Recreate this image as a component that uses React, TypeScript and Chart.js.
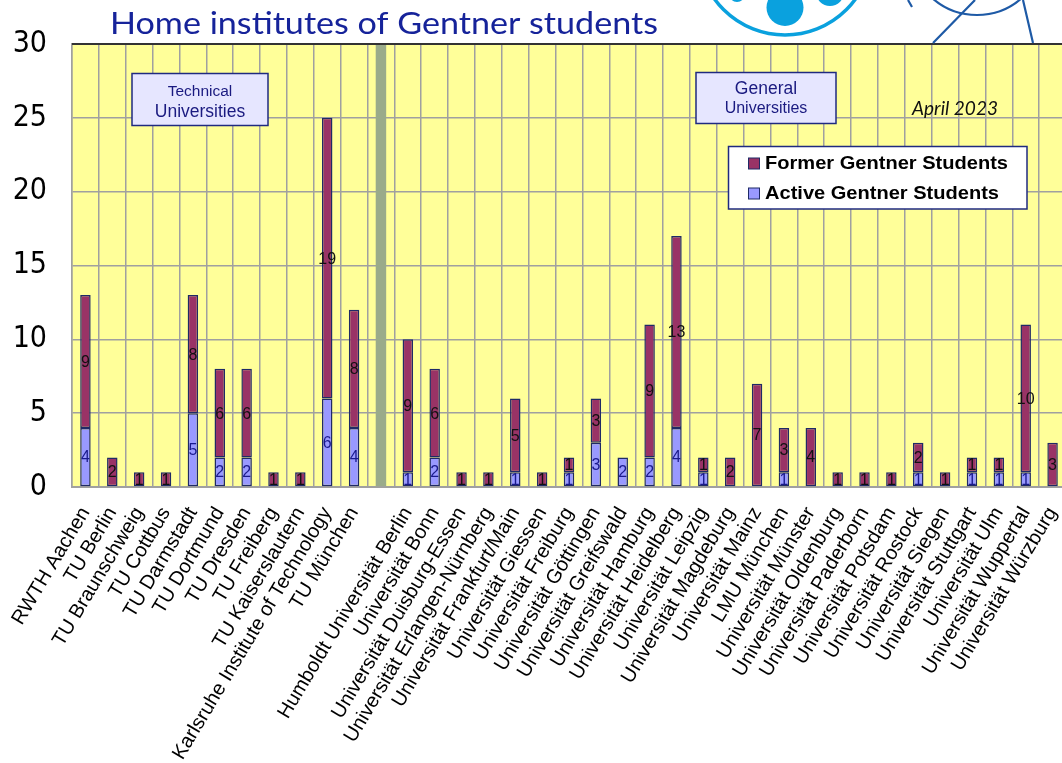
import React, { useEffect, useRef } from "react";
import { Chart, registerables } from "chart.js";

Chart.register(...registerables);

const institutes = [
  "RWTH Aachen", "TU Berlin", "TU Braunschweig", "TU Cottbus", "TU Darmstadt", "TU Dortmund",
  "TU Dresden", "TU Freiberg", "TU Kaiserslautern", "Karlsruhe Institute of Technology", "TU München",
  "",
  "Humboldt Universität Berlin", "Universität Bonn", "Universität Duisburg-Essen",
  "Universität Erlangen-Nürnberg", "Universität Frankfurt/Main", "Universität Giessen",
  "Universität Freiburg", "Universität Göttingen", "Universität Greifswald", "Universität Hamburg",
  "Universität Heidelberg", "Universität Leipzig", "Universität Magdeburg", "Universität Mainz",
  "LMU München", "Universität Münster", "Universität Oldenburg", "Universität Paderborn",
  "Universität Potsdam", "Universität Rostock", "Universität Siegen", "Universität Stuttgart",
  "Universität Ulm", "Universität Wuppertal", "Universität Würzburg",
];

const activeStudents = [4, 0, 0, 0, 5, 2, 2, 0, 0, 6, 4, 0, 1, 2, 0, 0, 1, 0, 1, 3, 2, 2, 4, 1, 0, 0, 1, 0, 0, 0, 0, 1, 0, 1, 1, 1, 0];
const formerStudents = [9, 2, 1, 1, 8, 6, 6, 1, 1, 19, 8, 0, 9, 6, 1, 1, 5, 1, 1, 3, 0, 9, 13, 1, 2, 7, 3, 4, 1, 1, 1, 2, 1, 1, 1, 10, 3];

const separatorIndex = 11;
const separatorValue = 30;

const yMin = 0;
const yMax = 30;
const yStep = 5;

const seriesLabels = ["Active Gentner Students", "Former Gentner Students"];
const groupLabels = [["Technical", "Universities"], ["General", "Universities"]];
const titleText = "Home institutes of Gentner students";
const dateText = "April 2023";

const ACTIVE = "#9999ff";
const FORMER = "#993366";
const EDGE = "#1f2a66";
const NAVY = "#1a1a80";

function drawFitText(ctx: CanvasRenderingContext2D, text: string, x: number, y: number, w: number, font: string, color: string) {
  ctx.save();
  ctx.font = font;
  ctx.fillStyle = color;
  ctx.textAlign = "left";
  ctx.textBaseline = "alphabetic";
  const m = ctx.measureText(text).width;
  ctx.translate(x, y);
  ctx.scale(w / m, 1);
  ctx.fillText(text, 0, 0);
  ctx.restore();
}

const decorPlugin = {
  id: "decor",
  beforeDraw(chart: any) {
    const { ctx, chartArea: a } = chart;
    ctx.save();
    ctx.fillStyle = "#ffffff";
    ctx.fillRect(0, 0, chart.width, chart.height);
    ctx.fillStyle = "#ffff99";
    ctx.fillRect(a.left, a.top, a.right - a.left, a.bottom - a.top);
    ctx.restore();
  },
  afterDatasetsDraw(chart: any) {
    const { ctx } = chart;
    ctx.save();
    ctx.font = "16px 'Liberation Sans', Arial, sans-serif";
    ctx.textAlign = "center";
    ctx.textBaseline = "middle";
    [0, 1].forEach((di) => {
      const meta = chart.getDatasetMeta(di);
      const vals = chart.data.datasets[di].data;
      meta.data.forEach((el: any, i: number) => {
        const v = vals[i];
        if (!v) return;
        ctx.fillStyle = di === 0 ? "#1a1a8c" : "#111111";
        ctx.fillText(String(v), el.x, (el.y + el.base) / 2 + 1);
      });
    });
    ctx.restore();
  },
  afterDraw(chart: any) {
    const { ctx, chartArea: a } = chart;
    ctx.save();
    // top border
    ctx.strokeStyle = "#333333";
    ctx.lineWidth = 2;
    ctx.beginPath();
    ctx.moveTo(a.left, a.top);
    ctx.lineTo(a.right, a.top);
    ctx.stroke();

    // logo fragments
    ctx.strokeStyle = "#0aa1de";
    ctx.fillStyle = "#0aa1de";
    ctx.lineWidth = 3.5;
    ctx.beginPath();
    ctx.arc(785, -52, 87, 0, Math.PI * 2);
    ctx.stroke();
    [[785, 7.5, 18.5], [830, -8, 14], [737, -6, 8]].forEach(([x, y, r]) => {
      ctx.beginPath();
      ctx.arc(x, y, r, 0, Math.PI * 2);
      ctx.fill();
    });
    ctx.strokeStyle = "#1e5aa6";
    ctx.lineWidth = 2.2;
    ctx.beginPath();
    ctx.arc(977, -52.7, 67.7, 0, Math.PI);
    ctx.stroke();
    ctx.beginPath();
    ctx.moveTo(975, 0); ctx.lineTo(933, 43);
    ctx.moveTo(1023, 0); ctx.lineTo(1033, 43);
    ctx.moveTo(908, 0); ctx.lineTo(912, 7);
    ctx.stroke();

    // title
    drawFitText(ctx, titleText, 110, 34, 548, "31px Lato, 'Open Sans', sans-serif", "#16239a");

    // group boxes
    const boxes = [
      { x: 132, y: 73.5, w: 136, h: 52, lines: groupLabels[0], sizes: [15.5, 17.5], base: [96, 117] },
      { x: 696, y: 72.5, w: 140, h: 51, lines: groupLabels[1], sizes: [17.5, 16], base: [94, 113] },
    ];
    boxes.forEach((b) => {
      ctx.fillStyle = "#e6e6ff";
      ctx.fillRect(b.x, b.y, b.w, b.h);
      ctx.strokeStyle = "#1f2a80";
      ctx.lineWidth = 1.5;
      ctx.strokeRect(b.x, b.y, b.w, b.h);
      ctx.fillStyle = NAVY;
      ctx.textAlign = "center";
      ctx.textBaseline = "alphabetic";
      b.lines.forEach((t, i) => {
        ctx.font = `${b.sizes[i]}px 'Liberation Sans', Arial, sans-serif`;
        ctx.fillText(t, b.x + b.w / 2, b.base[i]);
      });
    });

    // date
    drawFitText(ctx, dateText, 912, 115, 86, "italic 19px Lato, 'Open Sans', sans-serif", "#111111");

    // legend
    ctx.fillStyle = "#ffffff";
    ctx.fillRect(728.5, 146.5, 298.5, 62.5);
    ctx.strokeStyle = "#1f2a80";
    ctx.lineWidth = 1.5;
    ctx.strokeRect(728.5, 146.5, 298.5, 62.5);
    const items = [
      { label: chart.data.datasets[1].label, color: FORMER, y: 158, w: 243 },
      { label: chart.data.datasets[0].label, color: ACTIVE, y: 188, w: 234 },
    ];
    items.forEach((it) => {
      ctx.fillStyle = it.color;
      ctx.fillRect(748.5, it.y, 11, 11);
      ctx.strokeStyle = EDGE;
      ctx.lineWidth = 1;
      ctx.strokeRect(748.5, it.y, 11, 11);
      drawFitText(ctx, it.label, 765, it.y + 11, it.w, "bold 19px 'Liberation Sans', Arial, sans-serif", "#000000");
    });
    ctx.restore();
  },
};

export default function App() {
  const ref = useRef<HTMLCanvasElement>(null);
  useEffect(() => {
    if (!ref.current) return;
    const sepData = institutes.map((_, i) => (i === separatorIndex ? separatorValue : null));
    const chart = new Chart(ref.current, {
      type: "bar",
      data: {
        labels: institutes,
        datasets: [
          {
            label: seriesLabels[0],
            data: activeStudents.map((v) => (v ? v : null)) as any,
            backgroundColor: ACTIVE,
            borderColor: EDGE,
            borderWidth: 1.5,
            borderSkipped: false,
            stack: "s",
          },
          {
            label: seriesLabels[1],
            data: formerStudents.map((v) => (v ? v : null)) as any,
            backgroundColor: FORMER,
            borderColor: EDGE,
            borderWidth: 1.5,
            borderSkipped: false,
            stack: "s",
          },
          {
            label: "separator",
            data: sepData as any,
            backgroundColor: "#9aab8a",
            borderWidth: 0,
            stack: "s",
          },
        ],
      },
      options: {
        responsive: false,
        animation: false,
        devicePixelRatio: 1,
        layout: { padding: { top: 44, right: 4, left: 0, bottom: 0 } },
        datasets: { bar: { barPercentage: 0.39, categoryPercentage: 1 } },
        plugins: { legend: { display: false }, tooltip: { enabled: false }, title: { display: false } },
        scales: {
          x: {
            stacked: true,
            offset: true,
            grid: { color: "#a0a0a0", lineWidth: 1.5, drawTicks: false, offset: true },
            border: { color: "#a0a0a0", width: 2 },
            ticks: {
              autoSkip: false,
              maxRotation: 59,
              minRotation: 59,
              padding: 16,
              color: "#000000",
              font: { family: "'Liberation Sans', Arial, sans-serif", size: 20 },
            },
            afterFit(scale: any) {
              scale.height = 276;
              scale.paddingLeft = 0;
              scale.paddingRight = 0;
            },
          },
          y: {
            stacked: true,
            min: yMin,
            max: yMax,
            grid: { color: "#a0a0a0", lineWidth: 1.5, drawTicks: false },
            border: { color: "#a0a0a0", width: 1.5 },
            ticks: {
              stepSize: yStep,
              padding: 25,
              color: "#000000",
              font: { family: "'Liberation Sans Narrow', 'DejaVu Sans Condensed', Arial, sans-serif", size: 30 },
            },
            afterFit(scale: any) {
              scale.width = 72;
              scale.paddingTop = 0;
              scale.paddingBottom = 0;
            },
          },
        },
      },
      plugins: [decorPlugin],
    });
    return () => chart.destroy();
  }, []);
  return (
    <div style={{ position: "fixed", left: 0, top: 0, width: 1062, height: 763, overflow: "hidden", background: "#fff" }}>
      <canvas ref={ref} width={1070} height={763} style={{ display: "block", width: 1070, height: 763 }} />
    </div>
  );
}
